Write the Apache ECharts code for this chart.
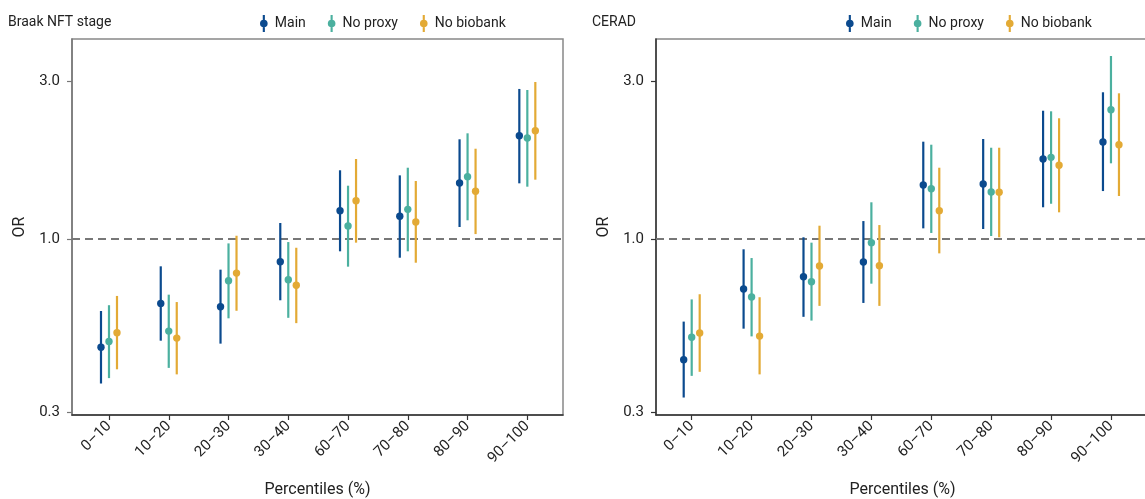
<!DOCTYPE html>
<html>
<head>
<meta charset="utf-8">
<script src="https://cdn.jsdelivr.net/npm/echarts@6/dist/echarts.min.js"></script>
<style>
  html, body { margin: 0; padding: 0; background: #fff; }
  #main { width: 1145px; height: 499px; }
</style>
</head>
<body>
<div id="main"></div>
<script>
var categories = ['0–10', '10–20', '20–30', '30–40', '60–70', '70–80', '80–90', '90–100'];
var yTicks = [0.3, 1.0, 3.0];

// [OR, lower CI, upper CI]
var braakMain = [[0.471, 0.366, 0.606], [0.639, 0.493, 0.827], [0.624, 0.483, 0.808], [0.854, 0.653, 1.118],
    [1.218, 0.918, 1.613], [1.171, 0.878, 1.557], [1.476, 1.087, 2.001], [2.051, 1.473, 2.840]];
var braakNoProxy = [[0.490, 0.380, 0.631], [0.527, 0.408, 0.679], [0.748, 0.576, 0.970], [0.753, 0.578, 0.979],
    [1.095, 0.825, 1.449], [1.229, 0.918, 1.642], [1.543, 1.139, 2.086], [2.019, 1.439, 2.820]];
var braakNoBiobank = [[0.521, 0.404, 0.673], [0.502, 0.390, 0.645], [0.789, 0.607, 1.023], [0.725, 0.557, 0.941],
    [1.305, 0.975, 1.745], [1.126, 0.848, 1.497], [1.394, 1.035, 1.874], [2.124, 1.511, 2.981]];

var ceradMain = [[0.432, 0.332, 0.563], [0.706, 0.536, 0.931], [0.769, 0.582, 1.012], [0.852, 0.641, 1.133],
    [1.456, 1.077, 1.968], [1.466, 1.072, 2.005], [1.745, 1.247, 2.441], [1.963, 1.396, 2.775]];
var ceradNoProxy = [[0.505, 0.386, 0.657], [0.668, 0.508, 0.876], [0.743, 0.567, 0.975], [0.975, 0.733, 1.291],
    [1.419, 1.043, 1.927], [1.387, 1.021, 1.887], [1.765, 1.278, 2.431], [2.458, 1.693, 3.572]];
var ceradNoBiobank = [[0.520, 0.397, 0.681], [0.509, 0.390, 0.667], [0.829, 0.628, 1.097], [0.831, 0.628, 1.102],
    [1.218, 0.905, 1.642], [1.384, 1.012, 1.887], [1.670, 1.204, 2.316], [1.927, 1.349, 2.755]];

var colors = { 'Main': '#0b4a8e', 'No proxy': '#4bb09f', 'No biobank': '#e3aa35' };
var offsets = { 'Main': -8, 'No proxy': 0, 'No biobank': 8 };
var FONT = 'Roboto';
var TXT = '#222';
var legendIcon = 'path://M-1,-8L1,-8L1,-3L-1,-3Z M-1,3L1,3L1,8L-1,8Z M0,-3.6A3.6,3.6 0 1,1 0,3.6A3.6,3.6 0 1,1 0,-3.6Z';

var myChart = echarts.init(document.getElementById('main'));

function toRows(arr) {
    return arr.map(function (d, i) { return [i, d[0], d[1], d[2]]; });
}

function makeSeries(name, arr, idx, withRef) {
    var off = offsets[name];
    var s = {
        name: name,
        type: 'custom',
        xAxisIndex: idx,
        yAxisIndex: idx,
        itemStyle: { color: colors[name] },
        encode: { x: 0, y: [1, 2, 3] },
        data: toRows(arr),
        z: 3,
        renderItem: function (params, api) {
            var x = api.value(0);
            var c = api.coord([x, api.value(1)]);
            var lo = api.coord([x, api.value(2)]);
            var hi = api.coord([x, api.value(3)]);
            var px = c[0] + off;
            return {
                type: 'group',
                children: [
                    { type: 'line', shape: { x1: px, y1: lo[1], x2: px, y2: hi[1] },
                      style: { stroke: colors[name], lineWidth: 2.2 } },
                    { type: 'circle', shape: { cx: px, cy: c[1], r: 3.7 },
                      style: { fill: colors[name] } }
                ]
            };
        }
    };
    if (withRef) {
        s.markLine = {
            silent: true,
            symbol: 'none',
            label: { show: false },
            z: 1,
            lineStyle: { color: '#777', type: [8, 5], width: 2 },
            data: [{ yAxis: 1 }]
        };
    }
    return s;
}

function xAxisFor(idx, min, max) {
    return {
        type: 'value',
        gridIndex: idx,
        min: min,
        max: max,
        name: 'Percentiles (%)',
        nameLocation: 'middle',
        nameGap: 67,
        nameTextStyle: { fontFamily: FONT, fontSize: 16, color: TXT },
        splitLine: { show: false },
        axisLine: { show: true, onZero: false, lineStyle: { color: '#333', width: 1.5 } },
        axisTick: { show: true, length: 5, lineStyle: { color: '#333', width: 1.2 }, customValues: [0, 1, 2, 3, 4, 5, 6, 7] },
        axisLabel: {
            rotate: 45, margin: 9, fontFamily: FONT, fontSize: 15, color: TXT,
            customValues: [0, 1, 2, 3, 4, 5, 6, 7],
            formatter: function (v) { return categories[Math.round(v)]; }
        }
    };
}

function yAxisFor(idx, lineColor) {
    return {
        type: 'log',
        gridIndex: idx,
        logBase: 10,
        min: 0.294,
        max: 4.02,
        name: 'OR',
        nameLocation: 'middle',
        nameGap: 44,
        nameTextStyle: { fontFamily: FONT, fontSize: 16, color: TXT },
        splitLine: { show: false },
        minorTick: { show: false },
        axisLine: { show: true, onZero: false, lineStyle: { color: lineColor, width: 1.5 } },
        axisTick: { show: true, length: 5, lineStyle: { color: lineColor, width: 1.2 }, customValues: yTicks },
        axisLabel: {
            margin: 12, fontFamily: FONT, fontSize: 15, color: TXT,
            customValues: yTicks,
            formatter: function (v) { return Number(v).toFixed(1); }
        }
    };
}

function legendFor(left) {
    return {
        left: left,
        top: 10,
        itemWidth: 8,
        itemHeight: 17,
        itemGap: 22,
        textStyle: { fontFamily: FONT, fontSize: 14, color: TXT, padding: [0, 0, 0, 2] },
        data: ['Main', 'No proxy', 'No biobank'].map(function (n) { return { name: n, icon: legendIcon }; })
    };
}

var option = {
    animation: false,
    title: [
        { text: 'Braak NFT stage', left: 3, top: 10, textStyle: { fontFamily: FONT, fontSize: 14, fontWeight: 'normal', color: TXT } },
        { text: 'CERAD', left: 587, top: 10, textStyle: { fontFamily: FONT, fontSize: 14, fontWeight: 'normal', color: TXT } }
    ],
    legend: [legendFor(255), legendFor(841)],
    grid: [
        { left: 72, top: 39, width: 491, height: 376, show: true, borderColor: '#888', borderWidth: 1.5, outerBoundsMode: 'none', containLabel: false },
        { left: 656, top: 39, width: 493, height: 376, show: true, borderColor: '#888', borderWidth: 1.5, outerBoundsMode: 'none', containLabel: false }
    ],
    xAxis: [xAxisFor(0, -0.619, 7.597), xAxisFor(1, -0.596, 7.635)],
    yAxis: [yAxisFor(0, '#777'), yAxisFor(1, '#333')],
    series: [
        makeSeries('Main', braakMain, 0, true),
        makeSeries('No proxy', braakNoProxy, 0, false),
        makeSeries('No biobank', braakNoBiobank, 0, false),
        makeSeries('Main', ceradMain, 1, true),
        makeSeries('No proxy', ceradNoProxy, 1, false),
        makeSeries('No biobank', ceradNoBiobank, 1, false)
    ]
};
myChart.setOption(option);
</script>
</body>
</html>
